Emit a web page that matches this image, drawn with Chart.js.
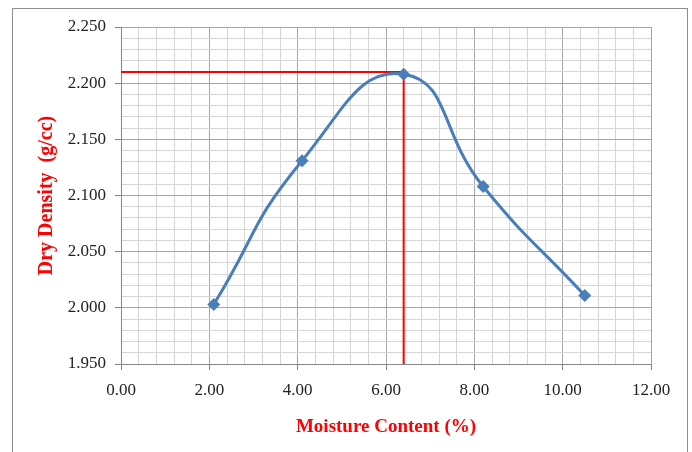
<!DOCTYPE html>
<html>
<head>
<meta charset="utf-8">
<script src="https://cdn.jsdelivr.net/npm/chart.js@4"></script>
<style>
  html, body { margin: 0; padding: 0; background: #fff; }
  #wrap { width: 692px; height: 452px; }
</style>
</head>
<body>
<div id="wrap"><canvas id="compactionChart"></canvas></div>
<script>
// moisture content (%) and dry density (g/cc)
var moisture = [2.1, 4.1, 6.4, 8.2, 10.5];
var dryDensity = [2.003, 2.131, 2.208, 2.108, 2.011];

// optimum moisture content / max dry density guide
var omc = 6.4;
var mdd = 2.21;

var xTickLabels = ["0.00", "2.00", "4.00", "6.00", "8.00", "10.00", "12.00"];
var yTickLabels = ["1.950", "2.000", "2.050", "2.100", "2.150", "2.200", "2.250"];

var blue = "#4a7ebb";
var red = "#ff0000";

var points = moisture.map(function (m, i) {
  return { x: m, y: dryDensity[i] };
});

// outer frame around the whole chart
var frame = {
  id: "frame",
  beforeDraw: function (chart) {
    var ctx = chart.ctx;
    ctx.save();
    ctx.strokeStyle = "#8c8c8c";
    ctx.lineWidth = 1;
    ctx.strokeRect(12.5, 8.5, 675, 460);
    ctx.restore();
  },
};

function gridColor(ctx) {
  return ctx.index % 5 === 0 ? "#a6a6a6" : "#d6d6d6";
}
function tickColor(ctx) {
  return ctx.index % 5 === 0 ? "#868686" : "rgba(0,0,0,0)";
}

new Chart(document.getElementById("compactionChart"), {
  type: "scatter",
  data: {
    datasets: [
      {
        label: "Compaction curve",
        data: points,
        showLine: true,
        tension: 0.5,
        borderColor: blue,
        borderWidth: 3,
        backgroundColor: blue,
        pointStyle: "rectRot",
        pointRadius: 6.5,
        pointBorderWidth: 0,
        order: 1,
      },
      {
        label: "OMC guide",
        data: [
          { x: 0, y: mdd },
          { x: omc, y: mdd },
          { x: omc, y: 1.95 },
        ],
        showLine: true,
        tension: 0,
        borderColor: red,
        borderWidth: 2,
        pointRadius: 0,
        order: 2,
      },
    ],
  },
  options: {
    responsive: true,
    maintainAspectRatio: false,
    animation: false,
    layout: {
      padding: { top: 27, right: 41, bottom: 0, left: 0 },
    },
    plugins: {
      legend: { display: false },
      tooltip: { enabled: false },
    },
    scales: {
      x: {
        type: "linear",
        min: 0,
        max: 12,
        afterFit: function (scale) {
          scale.height = 88;
        },
        ticks: {
          stepSize: 0.4,
          autoSkip: false,
          maxRotation: 0,
          padding: 10,
          color: "#222",
          font: { family: "Liberation Serif", size: 17 },
          callback: function (value, index) {
            return index % 5 === 0 ? xTickLabels[index / 5] : "";
          },
        },
        grid: {
          color: gridColor,
          tickColor: tickColor,
          tickLength: 6,
        },
        border: { color: "#868686" },
        title: {
          display: true,
          text: "Moisture Content (%)",
          color: red,
          font: { family: "Liberation Serif", size: 19, weight: "bold" },
          padding: { top: 0, bottom: 14 },
        },
      },
      y: {
        type: "linear",
        min: 1.95,
        max: 2.25,
        afterFit: function (scale) {
          scale.width = 121;
        },
        ticks: {
          stepSize: 0.01,
          autoSkip: false,
          padding: 9,
          color: "#222",
          font: { family: "Liberation Serif", size: 17 },
          callback: function (value, index) {
            return index % 5 === 0 ? yTickLabels[index / 5] : "";
          },
        },
        grid: {
          color: gridColor,
          tickColor: tickColor,
          tickLength: 6,
        },
        border: { color: "#868686" },
        title: {
          display: true,
          text: "Dry Density  (g/cc)",
          color: red,
          font: { family: "Liberation Serif", size: 20, weight: "bold" },
          padding: { top: 35, bottom: 0 },
        },
      },
    },
  },
  plugins: [frame],
});
</script>
</body>
</html>
